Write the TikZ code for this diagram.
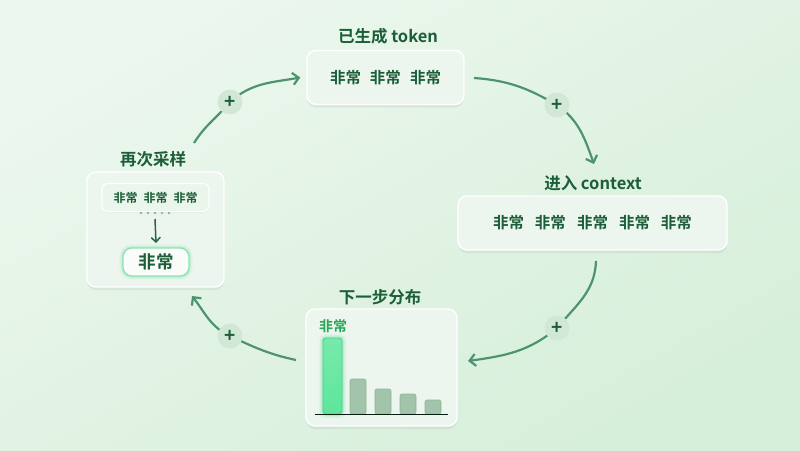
\documentclass[tikz,border=0pt]{standalone}
\usepackage{fontspec}
\setmainfont{Noto Sans CJK SC}[BoldFont={Noto Sans CJK SC Bold}]
\usetikzlibrary{arrows.meta,shadows,positioning}
\definecolor{bgA}{HTML}{ECF7EE}
\definecolor{bgB}{HTML}{D6EFDA}
\definecolor{txt}{HTML}{1B5E38}
\definecolor{arr}{HTML}{4E9370}
\definecolor{boxfill}{HTML}{EDF6EE}
\definecolor{plusfill}{HTML}{D2E8D6}
\definecolor{bargray}{HTML}{A2C4AA}
\definecolor{barline}{HTML}{8FB598}
\definecolor{hot}{HTML}{5EE69C}
\definecolor{hotline}{HTML}{3FD283}
\definecolor{lbl}{HTML}{2AA55C}
\newcommand{\gp}[1]{\hspace{#1}}
\tikzset{
  card/.style={draw=white, line width=1.4pt, fill=boxfill, rounded corners=9pt,
    drop shadow={opacity=0.12, shadow xshift=0pt, shadow yshift=-3pt}},
  ttl/.style={font=\bfseries\fontsize{16.5}{18}\selectfont, text=txt},
  cnt/.style={font=\bfseries\fontsize{15.5}{17}\selectfont, text=txt},
  flow/.style={draw=arr, line width=2.2pt, -{Straight Barb[length=6pt,width=12pt,line width=2.2pt]}},
  plus/.style={circle, fill=plusfill, minimum size=25pt, inner sep=0pt, text=txt,
    font=\bfseries\fontsize{19}{19}\selectfont},
  bar/.style={fill=bargray, draw=barline, line width=0.6pt, rounded corners=2pt},
}
\begin{document}
\begin{tikzpicture}[x=1pt,y=1pt]
\useasboundingbox (0,0) rectangle (800,-450);
\shade[top color=bgA, bottom color=bgB, shading angle=30] (0,0) rectangle (800,-450);

% top card
\node[card, minimum width=157pt, minimum height=54pt] (top) at (385.5,-77.5) {};
\node[cnt] at (top.center) {非常\gp{9pt}非常\gp{9pt}非常};
\node[ttl] (toptitle) at (388,-36) {已生成 token};

% right card
\node[card, minimum width=269pt, minimum height=54pt] (right) at (592.5,-223) {};
\node[cnt] at (right.center) {非常\gp{11pt}非常\gp{11pt}非常\gp{11pt}非常\gp{11pt}非常};
\node[ttl] (righttitle) at (593,-183) {进入 context};

% bottom card
\node[card, minimum width=151pt, minimum height=117pt] (bottom) at (381.5,-367.5) {};
\node[ttl] (bottomtitle) at (380,-297) {下一步分布};
\node[font=\bfseries\fontsize{14}{15}\selectfont, text=lbl] (barlbl) at (333,-326) {非常};
% glow of hot bar
\foreach \w/\o in {9/0.06,6/0.10,3.5/0.16}{
  \draw[hotline, line width=\w pt, opacity=\o, rounded corners=3pt] (323,-414) rectangle (342,-338);
}
\shade[top color=hot!85!white, bottom color=hot, rounded corners=3pt] (323,-414) rectangle (342,-338);
\draw[hotline, line width=0.8pt, rounded corners=3pt] (323,-414) rectangle (342,-338);
\draw[bar] (350,-414) rectangle (366,-379);
\draw[bar] (375,-414) rectangle (391,-389);
\draw[bar] (400,-414) rectangle (416,-394);
\draw[bar] (425,-414) rectangle (441,-400);
\draw[black!70!txt, line width=1pt] (315,-414) -- (448,-414);

% left card
\node[card, minimum width=137pt, minimum height=115pt] (left) at (155.5,-229.5) {};
\node[ttl] (lefttitle) at (153,-159) {再次采样};
\node[draw=white, line width=1.1pt, fill=boxfill!90!plusfill, rounded corners=6pt,
  minimum width=107pt, minimum height=28pt, inner sep=0pt,
  font=\bfseries\fontsize{12}{13}\selectfont, text=txt,
  drop shadow={opacity=0.08, shadow xshift=0pt, shadow yshift=-1.5pt}] (cand) at (155.5,-197.5) {非常\gp{6pt}非常\gp{6pt}非常};
\foreach \i in {0,...,4}{ \fill[barline] (141+7*\i,-213) circle (1.4pt); }
\coordinate (dtop) at (155,-219);
\foreach \w/\o in {8/0.05,5/0.09,3/0.15}{
  \draw[hotline, line width=\w pt, opacity=\o, rounded corners=9pt] (123,-248) rectangle (189,-276);
}
\node[draw=hotline!60!white, line width=1.2pt, fill=white!65!boxfill, rounded corners=9pt,
  minimum width=66pt, minimum height=28pt, inner sep=0pt,
  font=\bfseries\fontsize{17.5}{19}\selectfont, text=txt] (pick) at (156,-262) {非常};
\draw[draw=txt!85!arr, line width=1.5pt, -{Straight Barb[length=4.5pt,width=9pt,line width=1.5pt]}] (dtop) -- (pick.north |- 0,-243);

% flow arrows
\coordinate (s1) at (194,-143); \coordinate (p1) at (230,-102);
\coordinate (s2) at (474,-78);  \coordinate (p2) at (557,-105);
\coordinate (s3) at (596,-261); \coordinate (p3) at (557,-328);
\coordinate (s4) at (296,-360); \coordinate (p4) at (230,-336);
\coordinate (e2) at (594,-164);
\coordinate (e3) at (468,-361);
\coordinate (e4) at (192,-296);
\draw[flow] (s1) to[out=58,in=-130] (p1) to[out=42,in=190] ([xshift=-6pt]top.west);
\draw[flow] (s2) to[out=-4,in=150] (p2) to[out=-35,in=110] (e2);
\draw[flow] (s3) to[out=-92,in=50] (p3) to[out=-140,in=8] (e3);
\draw[flow] (s4) to[out=168,in=-25] (p4) to[out=155,in=-52] (e4);
\node[plus] (q1) at (p1) {+};
\node[plus] (q2) at (p2) {+};
\node[plus] (q3) at (p3) {+};
\node[plus] (q4) at (p4) {+};
\end{tikzpicture}
\end{document}
